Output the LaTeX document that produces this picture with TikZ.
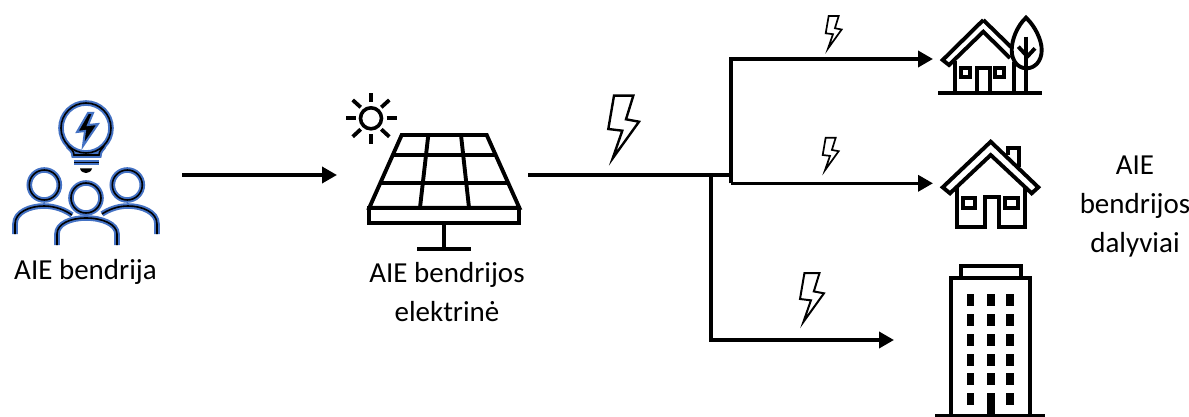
\documentclass[tikz,border=0pt]{standalone}
\usepackage{fontspec}
\setmainfont{Carlito}
\usetikzlibrary{arrows.meta}
\definecolor{iconblue}{HTML}{4472C4}
\tikzset{
  icon/.style={draw=black,line width=3.9pt,line join=miter},
  blueout/.style={draw=iconblue,line width=5.6pt},
  blackin/.style={draw=black,line width=1.6pt},
  flow/.style={draw=black,line width=3.6pt,-{Triangle[length=15pt,width=16pt]}},
  flowplain/.style={draw=black,line width=4pt},
  label/.style={font=\fontsize{29}{39}\selectfont,align=center,inner sep=0pt,text=black},
  bolt/.pic={\draw[black,line width=#1,line join=miter,fill=white] (5.7,-33.3)--(25,-33.3)--(17.7,-9.7)--(30.7,-7.3)--(4.4,29.3)--(14,1.7)--(0,0)--cycle;},
}
\begin{document}
\begin{tikzpicture}[x=1pt,y=-1pt]
\useasboundingbox (0,0) rectangle (1189,417);
% community icon
\foreach \sty in {blueout,blackin}{
  \draw[\sty] (86,128) circle (25);
  \draw[\sty] (68,146) .. controls (71,149) and (74,151) .. (74,155) -- (99,155) .. controls (99,151) and (102,149) .. (104,146);
  \draw[\sty] (74,162.5) -- (99,162.5);
  \draw[\sty] (44.3,185) circle (15);
  \draw[\sty] (127.3,185) circle (15);
  \draw[\sty] (86,198) circle (15);
  \draw[\sty] (15,234) -- (15,224) .. controls (15,212) and (30,206) .. (44,206) .. controls (55,206) and (65,210) .. (72,215);
  \draw[\sty] (157,234) -- (157,224) .. controls (157,212) and (142,206) .. (128,206) .. controls (117,206) and (108,210) .. (102,214);
  \draw[\sty] (57,245) -- (57,234) .. controls (57,224) and (70,218) .. (86,218) .. controls (102,218) and (117,224) .. (117,234) -- (117,245);
}
\draw[iconblue,line width=2pt,fill=black,line join=miter] (88,113) -- (77,132) -- (85,131) -- (83,146) -- (98,124) -- (88,125) -- (93,113) -- cycle;
\fill[black] (80,168.5) -- (92,168.5) .. controls (91,172) and (88,173) .. (86,173) .. controls (84,173) and (81,172) .. (80,168.5) -- cycle;
% sun
\draw[black,line width=3.6pt] (371,118.3) circle (10.5);
\foreach \xa/\ya/\xb/\yb in {371/93.3/371/102, 371/134.3/371/144, 346/118.3/356/118.3, 386.7/118.3/396.7/118.3, 352.7/100/360.7/107.3, 389.3/100/381.3/107.3, 352.7/136.7/360.7/129.3, 389.3/136.7/381.3/129.3}
  \draw[black,line width=3.8pt] (\xa,\ya) -- (\xb,\yb);
% solar panel
\draw[icon] (401.7,135) -- (486.7,135) -- (519.3,207.7) -- (369.3,207.7) -- cycle;
\draw[icon] (369.3,207.7) rectangle (519.3,223.3);
\draw[icon] (392.5,155) -- (495.5,155);
\draw[icon] (380.5,182.7) -- (508,182.7);
\draw[icon] (428.3,135) -- (420,207.7);
\draw[icon] (461,135) -- (469,207.7);
\draw[icon] (444.3,223.3) -- (444.3,249);
\draw[icon] (417.3,249) -- (471,249);
% connectors
\coordinate (cSrc) at (182,175);
\coordinate (cPanelIn) at (337,175);
\coordinate (cOut) at (528,175);
\coordinate (cJ) at (731,175);
\coordinate (cJ2) at (711,175);
\coordinate (cT1) at (731,59);
\coordinate (cH1) at (933,59);
\coordinate (cT2) at (731,183.3);
\coordinate (cH2) at (933,183.3);
\coordinate (cT3) at (711,340);
\coordinate (cH3) at (894,340);
\draw[flow] (cSrc) -- (cPanelIn);
\draw[flowplain] (cOut) -- (cJ);
\draw[flow] (cT2) -- (cT1) -- (cH1);
\draw[flow] (cT2) -- (cH2);
\draw[flow] (cJ2) -- (cT3) -- (cH3);
% bolts
\path (608.3,129) pic {bolt=2.4pt};
\path (825.7,33.3) pic[scale=0.52] {bolt=1.7pt};
\path (822.7,155) pic[scale=0.52] {bolt=1.7pt};
\path (800,299) pic[scale=0.78] {bolt=2pt};
% house with tree
\draw[icon] (983.3,20) -- (942.7,60) -- (949,65) -- (983.3,31.7) -- (1010,58) (983.3,20) -- (1011,47);
\draw[icon] (955,61) -- (955,93.3);
\draw[icon] (1014,62) -- (1014,93.3);
\draw[icon] (960.7,67.7) rectangle (970,76.7);
\draw[icon] (995,67.7) rectangle (1004.3,76.7);
\draw[icon] (976.7,93.3) -- (976.7,68.3) -- (990,68.3) -- (990,93.3);
\draw[icon] (938.3,93.3) -- (1041.7,93.3);
\draw[icon] (1026,17.7) .. controls (1017,26) and (1011.7,40) .. (1011.7,50) .. controls (1011.7,61) and (1018,68.3) .. (1026.5,68.3) .. controls (1035,68.3) and (1041.7,61) .. (1041.7,50) .. controls (1041.7,40) and (1035,26) .. (1026,17.7) -- cycle;
\draw[icon] (1026,36.7) -- (1026,93.3);
\draw[icon] (1018.3,46.7) -- (1026,55);
\draw[icon] (1035,48.3) -- (1026,58);
% house with chimney
\draw[icon] (990.7,141.7) -- (942.7,187.3) -- (950,193.3) -- (990.7,155) -- (1031.7,193.3) -- (1038.3,187.3) -- cycle;
\draw[icon] (956.7,188) -- (956.7,226.7) -- (985,226.7) -- (985,196.7) -- (999,196.7) -- (999,226.7) -- (1025,226.7) -- (1025,188);
\draw[icon] (963.3,198.3) rectangle (975,208.3);
\draw[icon] (1005,198.3) rectangle (1018.3,208.3);
\draw[icon] (1008.3,155) -- (1008.3,148.3) -- (1019.3,148.3) -- (1019.3,166.7);
% building
\draw[icon] (950.7,415.7) -- (950.7,278.3) -- (1030,278.3) -- (1030,415.7);
\draw[icon] (960.7,278.3) -- (960.7,266) -- (1020.7,266) -- (1020.7,278.3);
\draw[icon] (935,415.7) -- (1045,415.7);
\foreach \ya/\yb in {294/305.7,314/325.7,334/345.7,354/365.7,373.3/385,392.7/405}{
  \fill[black] (966.7,\ya) rectangle (974.3,\yb);
  \fill[black] (1006,\ya) rectangle (1014,\yb);
}
\foreach \ya/\yb in {294/305.7,314/325.7,334/345.7,354/365.7,373.3/385,392.7/415}
  \fill[black] (986.7,\ya) rectangle (995,\yb);
% labels
\node[label] (lCommunity) at (85.5,271.5) {AIE bendrija};
\node[label] (lPlant) at (447,292) {AIE bendrijos\\elektrinė};
\node[label] (lMembers) at (1135,207) {AIE\\bendrijos\\dalyviai};
\end{tikzpicture}
\end{document}
